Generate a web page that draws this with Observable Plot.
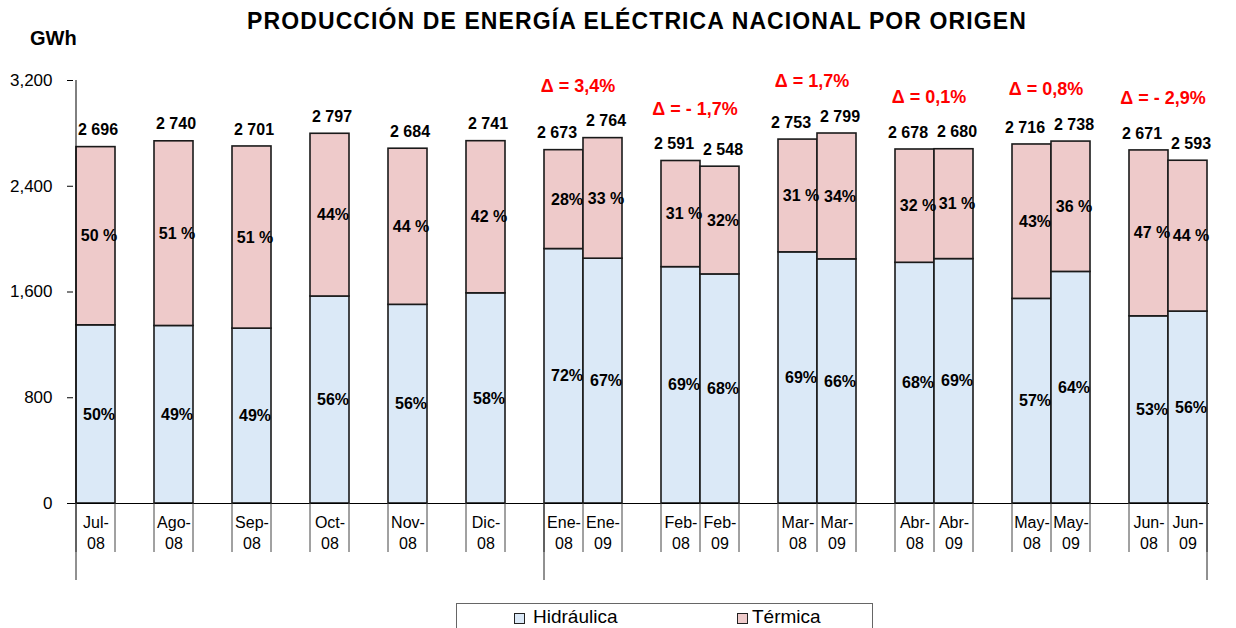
<!DOCTYPE html>
<html>
<head>
<meta charset="utf-8">
<script src="https://cdn.jsdelivr.net/npm/d3@7"></script>
<script src="https://cdn.jsdelivr.net/npm/@observablehq/plot@0.6"></script>
<style>
  body { margin: 0; background: #fff; font-family: "Liberation Sans", Arial, sans-serif; }
  #wrap { position: relative; width: 1236px; height: 628px; overflow: hidden; background: #fff; }
  #chart { position: absolute; left: 0; top: 0; }
  #title { position: absolute; left: 37px; width: 1200px; top: 8px; text-align: center; font-weight: bold; font-size: 23px; letter-spacing: 1.1px; color: #000; }
  #unit { position: absolute; left: 30px; top: 27px; font-weight: bold; font-size: 20px; color: #000; }
  #legend { position: absolute; left: 456px; top: 603px; width: 417px; height: 40px; border: 1px solid #666; box-sizing: border-box; }
  .sw { position: absolute; top: 9px; width: 11px; height: 11px; border: 1px solid #222; box-sizing: border-box; }
  .lt { position: absolute; top: 2px; font-size: 19px; color: #000; }
</style>
</head>
<body>
<div id="wrap">
  <div id="chart"></div>
  <div id="title">PRODUCCIÓN DE ENERGÍA ELÉCTRICA NACIONAL POR ORIGEN</div>
  <div id="unit">GWh</div>
  <div id="legend"></div>
</div>
<script>
// ---- data ----
const categories = ["Jul-08","Ago-08","Sep-08","Oct-08","Nov-08","Dic-08","Ene-08","Ene-09","Feb-08","Feb-09","Mar-08","Mar-09","Abr-08","Abr-09","May-08","May-09","Jun-08","Jun-09"];
const groups = ["Jul","Ago","Sep","Oct","Nov","Dic","Ene","Ene","Feb","Feb","Mar","Mar","Abr","Abr","May","May","Jun","Jun"];
const hidraulica = [1348,1343,1323,1566,1503,1590,1925,1852,1788,1733,1900,1847,1821,1849,1548,1752,1416,1452];
const termica    = [1348,1397,1378,1231,1181,1151, 748, 912, 803, 815, 853, 952, 857, 831,1168, 986,1255,1141];
const totals     = [2696,2740,2701,2797,2684,2741,2673,2764,2591,2548,2753,2799,2678,2680,2716,2738,2671,2593];
const pctHidraulica = ["50%","49%","49%","56%","56%","58%","72%","67%","69%","68%","69%","66%","68%","69%","57%","64%","53%","56%"];
const pctTermica    = ["50 %","51 %","51 %","44%","44 %","42 %","28%","33 %","31 %","32%","31 %","34%","32 %","31 %","43%","36 %","47 %","44 %"];
const deltaGroups = ["Ene","Feb","Mar","Abr","May","Jun"];
const deltaLabels = ["Δ = 3,4%","Δ = - 1,7%","Δ = 1,7%","Δ = 0,1%","Δ = 0,8%","Δ = - 2,9%"];
const series = ["Hidráulica","Térmica"];
const seriesColors = ["#dbe9f7","#eecaca"];
const yTicks = [0,800,1600,2400,3200];

// ---- derived tables ----
const slots = [];
categories.forEach((c, i) => {
  if (i > 0 && groups[i] !== groups[i - 1]) slots.push("gap" + i);
  slots.push(c);
});
const rows = categories.flatMap((c, i) => [
  {cat: c, serie: series[0], value: hidraulica[i], pct: pctHidraulica[i]},
  {cat: c, serie: series[1], value: termica[i], pct: pctTermica[i]}
]);
const fmtTotal = d3.formatLocale({thousands: " ", grouping: [3], decimal: ","}).format(",");
const totalRows = categories.map((c, i) => {
  const size = groups.filter(g => g === groups[i]).length;
  const pos = size === 1 ? "single" : (groups[i - 1] === groups[i] ? "second" : "first");
  return {cat: c, total: totals[i], pos};
});
const deltaRows = deltaGroups.map((g, k) => {
  const idx = groups.map((gg, i) => gg === g ? i : -1).filter(i => i >= 0);
  return {cat: categories[idx[0]], top: d3.max(idx, i => totals[i]), label: deltaLabels[k]};
});

function axisLines(index, scales, values, dimensions) {
  const x = scales.x, y = scales.y;
  const bw = x.bandwidth ? x.bandwidth() : (dimensions.width - dimensions.marginLeft - dimensions.marginRight) / slots.length;
  const y0 = y(0);
  const g = d3.create("svg:g").attr("fill", "none");
  const edges = slots.map(s => x(s)).concat([x(slots[slots.length - 1]) + bw]);
  edges.forEach(e => {
    g.append("line").attr("x1", e).attr("x2", e).attr("y1", y0).attr("y2", y0 + 49)
      .attr("stroke", "#444").attr("stroke-width", 1);
  });
  const longEdges = [x(categories[0]), x("Ene-08"), x(slots[slots.length - 1]) + bw];
  longEdges.forEach(e => {
    g.append("line").attr("x1", e).attr("x2", e).attr("y1", y0).attr("y2", y0 + 77)
      .attr("stroke", "#222").attr("stroke-width", 1);
  });
  const xl = x(categories[0]);
  g.append("line").attr("x1", xl).attr("x2", xl).attr("y1", y(3200)).attr("y2", y0)
    .attr("stroke", "#000").attr("stroke-width", 1);
  return g.node();
}

const totalText = (pos, dx) => Plot.text(totalRows.filter(d => d.pos === pos), {
  x: "cat", y: "total", text: d => fmtTotal(d.total), dx, dy: -17,
  fontWeight: "bold", fontSize: 16, fill: "#000"
});

const chart = Plot.plot({
  width: 1236,
  height: 590,
  marginLeft: 73,
  marginRight: 27,
  marginTop: 80,
  marginBottom: 87,
  style: {fontFamily: "'Liberation Sans', Arial, sans-serif", fontSize: "16px", background: "transparent", color: "#000", overflow: "visible"},
  x: {domain: slots, padding: 0, axis: null},
  y: {domain: [0, 3200], axis: null},
  color: {domain: series, range: seriesColors},
  marks: [
    Plot.barY(rows, {x: "cat", y: "value", fill: "serie", stroke: "#1a1a1a", strokeWidth: 1.6}),
    Plot.ruleY([0], {stroke: "#000", strokeWidth: 1}),
    Plot.axisY({ticks: yTicks, tickFormat: d3.format(","), tickSize: 6, tickPadding: 15, fontSize: 17, label: null, stroke: "#000"}),
    axisLines,
    Plot.text(rows, Plot.stackY({x: "cat", y: "value", text: "pct", fontWeight: "bold", fontSize: 16, fill: "#000", dx: 3})),
    totalText("single", 2),
    totalText("first", -7),
    totalText("second", 3),
    Plot.text(deltaRows, {x: "cat", y: "top", text: "label", dx: 14, dy: -52, fontWeight: "bold", fontSize: 18, fill: "#ff0000"}),
    Plot.text(categories, {x: d => d, y: () => 0, text: d => d.replace("-", "-\n"), lineAnchor: "top", dy: 10, lineHeight: 1.3, fontSize: 16, fill: "#000"})
  ]
});
document.getElementById("chart").appendChild(chart);

// legend
const legend = document.getElementById("legend");
const legendPos = [[57, 76], [280, 295]];
series.forEach((s, i) => {
  const sw = document.createElement("div");
  sw.className = "sw";
  sw.style.left = legendPos[i][0] + "px";
  sw.style.background = seriesColors[i];
  legend.appendChild(sw);
  const t = document.createElement("div");
  t.className = "lt";
  t.style.left = legendPos[i][1] + "px";
  t.textContent = s;
  legend.appendChild(t);
});
</script>
</body>
</html>
